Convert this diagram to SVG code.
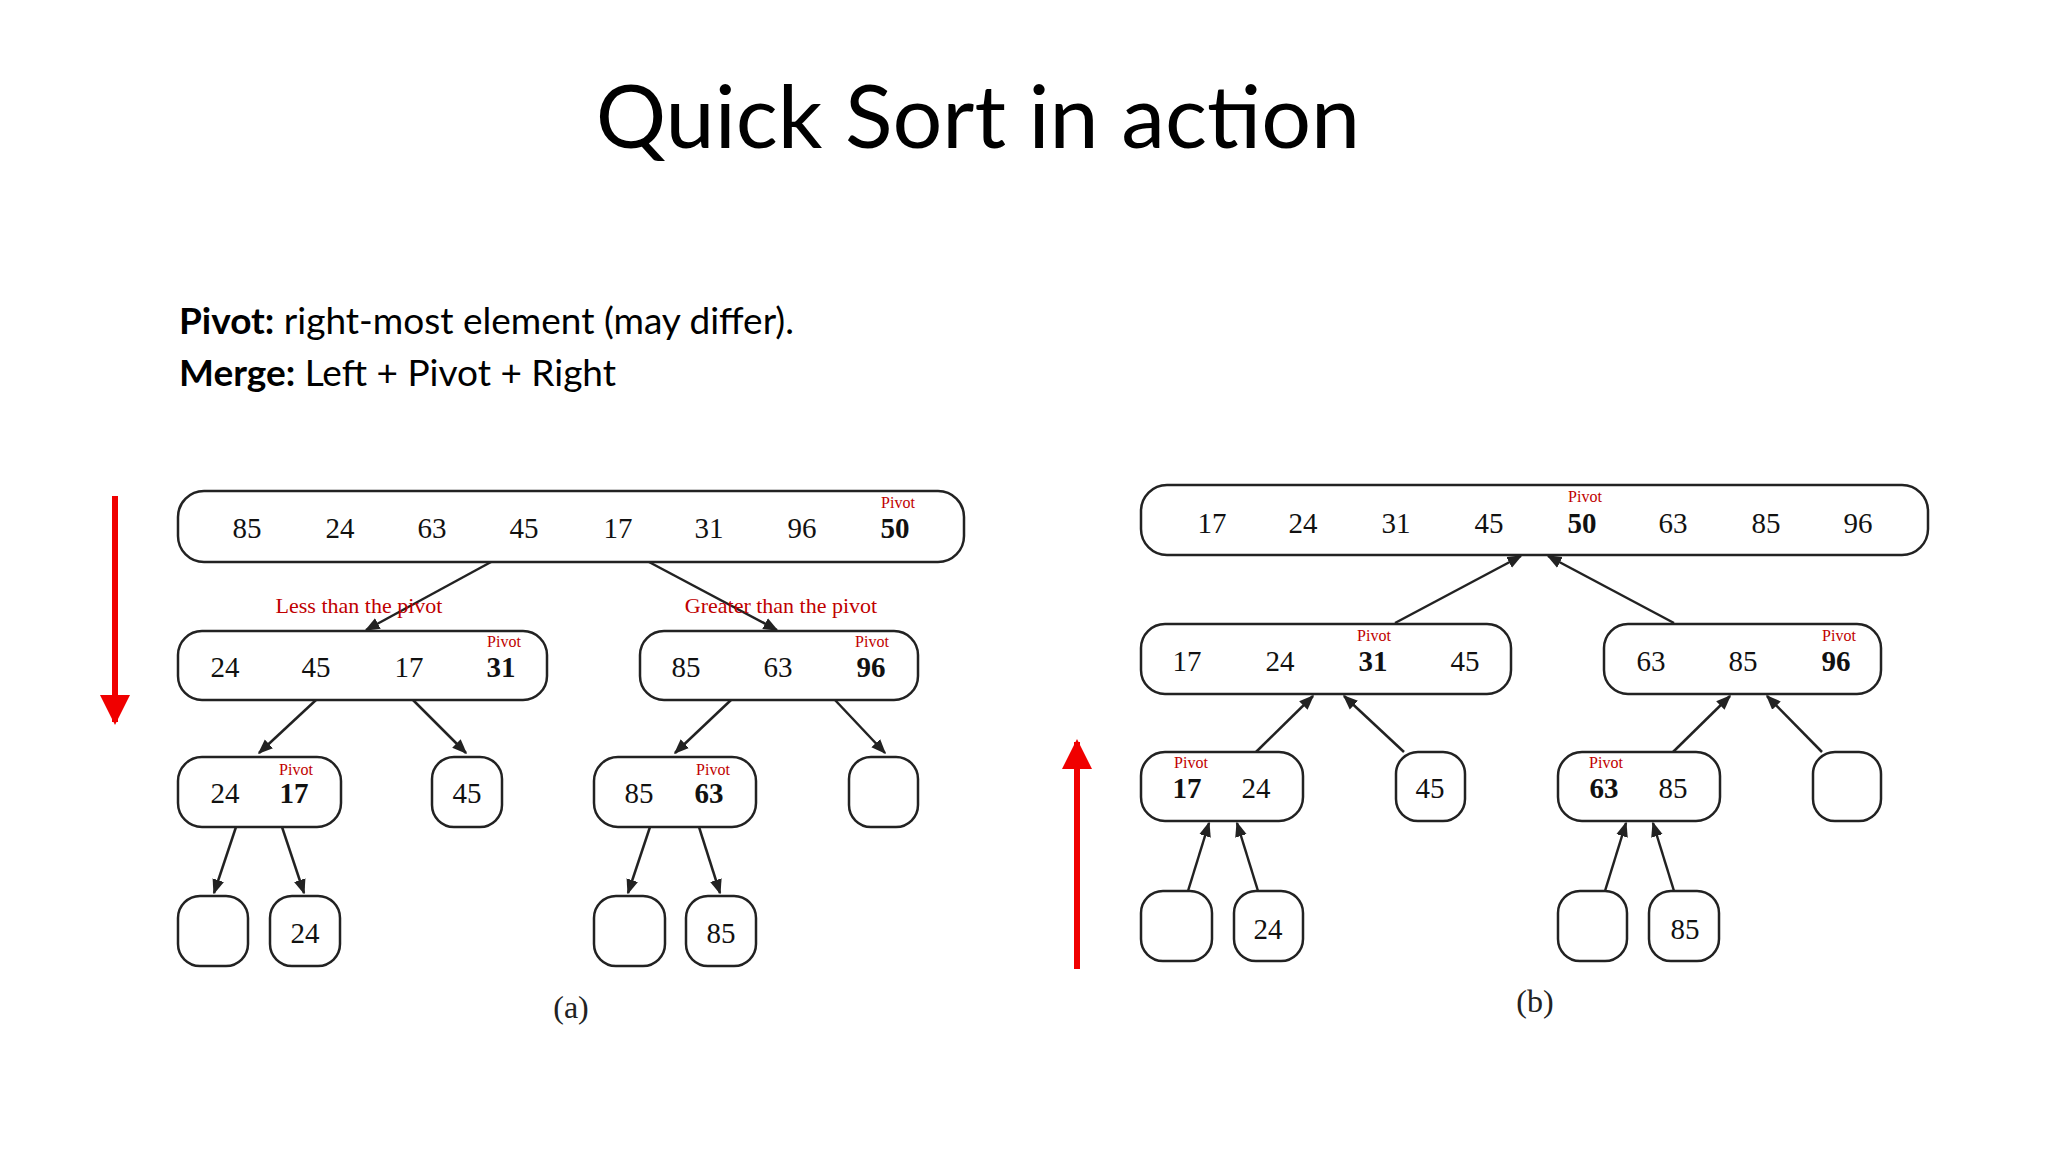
<svg xmlns="http://www.w3.org/2000/svg" width="2048" height="1152" viewBox="0 0 2048 1152">
<style>
.box{fill:#fff;stroke:#222;stroke-width:2.5}
.n{font-family:"Liberation Serif",serif;font-size:29px;text-anchor:middle;fill:#111}
.b{font-weight:bold}
.p{font-family:"Liberation Serif",serif;font-size:16px;text-anchor:middle;fill:#c00000}
.lbl{font-family:"Liberation Serif",serif;font-size:22px;text-anchor:middle;fill:#c00000}
.e{stroke:#222;stroke-width:2.5;fill:none;marker-end:url(#ah)}
.cap{font-family:"Liberation Serif",serif;font-size:32px;text-anchor:middle;fill:#222}
</style>
<defs>
<marker id="ah" viewBox="0 0 10 10" refX="9" refY="5" markerWidth="6" markerHeight="6" orient="auto"><path d="M0,1 L10,5 L0,9 Z" fill="#222"/></marker>
<marker id="rh" viewBox="0 0 10 10" refX="9" refY="5" markerWidth="5" markerHeight="5" orient="auto"><path d="M0,0 L10,5 L0,10 Z" fill="#f00000"/></marker>
</defs>
<rect width="2048" height="1152" fill="#fff"/>
<text x="978" y="148" font-family="Lato, sans-serif" font-size="88" text-anchor="middle" fill="#000">Quick Sort in action</text>
<text x="179" y="334" font-family="Lato, sans-serif" font-size="37" fill="#000"><tspan font-weight="bold">Pivot:</tspan> right-most element (may differ).</text>
<text x="179" y="386" font-family="Lato, sans-serif" font-size="37" fill="#000"><tspan font-weight="bold">Merge:</tspan> Left + Pivot + Right</text>

<g id="arrows-red">
<line x1="115" y1="496" x2="115" y2="722" stroke="#f00000" stroke-width="6" marker-end="url(#rh)"/>
<line x1="1077" y1="969" x2="1077" y2="742" stroke="#f00000" stroke-width="6" marker-end="url(#rh)"/>
</g>

<g id="connectors">
<line class="e" x1="491" y1="562" x2="366" y2="630"/>
<line class="e" x1="649" y1="562" x2="777" y2="630"/>
<line class="e" x1="316" y1="700" x2="259" y2="753"/>
<line class="e" x1="413" y1="700" x2="466" y2="753"/>
<line class="e" x1="731" y1="700" x2="675" y2="753"/>
<line class="e" x1="835" y1="700" x2="885" y2="753"/>
<line class="e" x1="236" y1="827" x2="214" y2="893"/>
<line class="e" x1="282" y1="827" x2="304" y2="893"/>
<line class="e" x1="650" y1="827" x2="628" y2="893"/>
<line class="e" x1="699" y1="827" x2="720" y2="893"/>
<line class="e" x1="1395" y1="623" x2="1521" y2="556"/>
<line class="e" x1="1674" y1="623" x2="1548" y2="556"/>
<line class="e" x1="1256" y1="752" x2="1313" y2="696"/>
<line class="e" x1="1404" y1="752" x2="1344" y2="696"/>
<line class="e" x1="1673" y1="752" x2="1730" y2="696"/>
<line class="e" x1="1822" y1="752" x2="1767" y2="696"/>
<line class="e" x1="1188" y1="891" x2="1209" y2="823"/>
<line class="e" x1="1258" y1="891" x2="1237" y2="823"/>
<line class="e" x1="1605" y1="891" x2="1626" y2="823"/>
<line class="e" x1="1674" y1="891" x2="1653" y2="823"/>
<text class="lbl" x="359" y="613">Less than the pivot</text>
<text class="lbl" x="781" y="613">Greater than the pivot</text>
</g>

<g id="a-root"><rect class="box" x="178" y="491" width="786" height="71" rx="26"/>
<text class="p" x="898" y="508">Pivot</text>
<text class="n" x="247" y="538">85</text><text class="n" x="340" y="538">24</text><text class="n" x="432" y="538">63</text><text class="n" x="524" y="538">45</text><text class="n" x="618" y="538">17</text><text class="n" x="709" y="538">31</text><text class="n" x="802" y="538">96</text><text class="n b" x="895" y="538">50</text></g>
<g id="a-l"><rect class="box" x="178" y="631" width="369" height="69" rx="24"/>
<text class="p" x="504" y="647">Pivot</text>
<text class="n" x="225" y="677">24</text><text class="n" x="316" y="677">45</text><text class="n" x="409" y="677">17</text><text class="n b" x="501" y="677">31</text></g>
<g id="a-r"><rect class="box" x="640" y="631" width="278" height="69" rx="24"/>
<text class="p" x="872" y="647">Pivot</text>
<text class="n" x="686" y="677">85</text><text class="n" x="778" y="677">63</text><text class="n b" x="871" y="677">96</text></g>
<g id="a-ll"><rect class="box" x="178" y="757" width="163" height="70" rx="24"/>
<text class="p" x="296" y="775">Pivot</text>
<text class="n" x="225" y="803">24</text><text class="n b" x="294" y="803">17</text></g>
<g id="a-lr"><rect class="box" x="432" y="757" width="70" height="70" rx="22"/><text class="n" x="467" y="803">45</text></g>
<g id="a-rl"><rect class="box" x="594" y="757" width="162" height="70" rx="24"/>
<text class="p" x="713" y="775">Pivot</text>
<text class="n" x="639" y="803">85</text><text class="n b" x="709" y="803">63</text></g>
<g id="a-rr"><rect class="box" x="849" y="757" width="69" height="70" rx="22"/></g>
<g id="a-lll"><rect class="box" x="178" y="896" width="70" height="70" rx="22"/></g>
<g id="a-llr"><rect class="box" x="270" y="896" width="70" height="70" rx="22"/><text class="n" x="305" y="943">24</text></g>
<g id="a-rll"><rect class="box" x="594" y="896" width="71" height="70" rx="22"/></g>
<g id="a-rlr"><rect class="box" x="686" y="896" width="70" height="70" rx="22"/><text class="n" x="721" y="943">85</text></g>
<text class="cap" x="571" y="1018">(a)</text>

<g id="b-root"><rect class="box" x="1141" y="485" width="787" height="70" rx="26"/>
<text class="p" x="1585" y="502">Pivot</text>
<text class="n" x="1212" y="533">17</text><text class="n" x="1303" y="533">24</text><text class="n" x="1396" y="533">31</text><text class="n" x="1489" y="533">45</text><text class="n b" x="1582" y="533">50</text><text class="n" x="1673" y="533">63</text><text class="n" x="1766" y="533">85</text><text class="n" x="1858" y="533">96</text></g>
<g id="b-l"><rect class="box" x="1141" y="624" width="370" height="70" rx="24"/>
<text class="p" x="1374" y="641">Pivot</text>
<text class="n" x="1187" y="671">17</text><text class="n" x="1280" y="671">24</text><text class="n b" x="1373" y="671">31</text><text class="n" x="1465" y="671">45</text></g>
<g id="b-r"><rect class="box" x="1604" y="624" width="277" height="70" rx="24"/>
<text class="p" x="1839" y="641">Pivot</text>
<text class="n" x="1651" y="671">63</text><text class="n" x="1743" y="671">85</text><text class="n b" x="1836" y="671">96</text></g>
<g id="b-ll"><rect class="box" x="1141" y="752" width="162" height="69" rx="24"/>
<text class="p" x="1191" y="768">Pivot</text>
<text class="n b" x="1187" y="798">17</text><text class="n" x="1256" y="798">24</text></g>
<g id="b-lr"><rect class="box" x="1396" y="752" width="69" height="69" rx="22"/><text class="n" x="1430" y="798">45</text></g>
<g id="b-rl"><rect class="box" x="1558" y="752" width="162" height="69" rx="24"/>
<text class="p" x="1606" y="768">Pivot</text>
<text class="n b" x="1604" y="798">63</text><text class="n" x="1673" y="798">85</text></g>
<g id="b-rr"><rect class="box" x="1813" y="752" width="68" height="69" rx="22"/></g>
<g id="b-lll"><rect class="box" x="1141" y="891" width="71" height="70" rx="22"/></g>
<g id="b-llr"><rect class="box" x="1234" y="891" width="69" height="70" rx="22"/><text class="n" x="1268" y="939">24</text></g>
<g id="b-rll"><rect class="box" x="1558" y="891" width="69" height="70" rx="22"/></g>
<g id="b-rlr"><rect class="box" x="1649" y="891" width="70" height="70" rx="22"/><text class="n" x="1685" y="939">85</text></g>
<text class="cap" x="1535" y="1012">(b)</text>
</svg>
